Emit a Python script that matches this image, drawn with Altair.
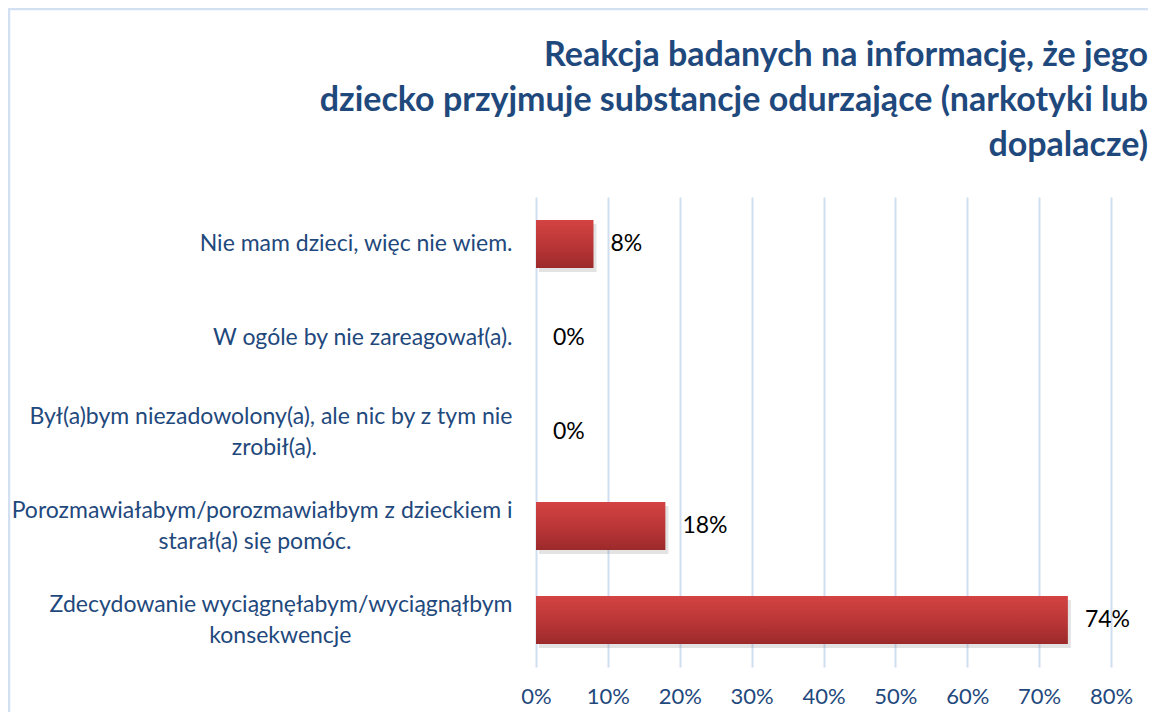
import altair as alt
import pandas as pd

categories = [
    "Nie mam dzieci, więc nie wiem.",
    "W ogóle by nie zareagował(a).",
    "Był(a)bym niezadowolony(a), ale nic by z tym nie|zrobił(a).",
    "Porozmawiałabym/porozmawiałbym z dzieckiem i|starał(a) się pomóc.",
    "Zdecydowanie wyciągnęłabym/wyciągnąłbym|konsekwencje",
]
values = [0.08, 0.0, 0.0, 0.18, 0.74]
title_lines = [
    "Reakcja badanych na informację, że jego",
    "dziecko przyjmuje substancje odurzające (narkotyki lub",
    "dopalacze)",
]

# layout only: en-space padding that centres each second label line under the first
SECOND_LINE_PAD = {2: 17, 3: 14, 4: 14}
EN = "\u2002"
WJ = "\u2060"
label_text = []
for i, c in enumerate(categories):
    if "|" in c:
        c = c + EN * SECOND_LINE_PAD.get(i, 0) + WJ
    label_text.append(c)

df = pd.DataFrame({"cat": label_text, "val": values})

W, H = 575, 470
PL, PT, PR, PB = 528, 189, 37, 45

FONT = "Lato"
BLUE = "#1F497D"

y_enc = alt.Y(
    "cat:N",
    sort=label_text,
    title=None,
    scale=alt.Scale(paddingInner=0.49, paddingOuter=0.245),
    axis=alt.Axis(
        labelExpr="split(datum.label, '|')",
        labelFont=FONT,
        labelFontSize=23,
        labelColor=BLUE,
        labelPadding=24,
        labelLineHeight=31,
        labelLimit=600,
        labelOffset={"condition": {"test": "indexof(datum.value, '|') >= 0", "value": -15.5}, "value": 0},
        ticks=False,
        domain=False,
        grid=False,
    ),
)
x_enc = alt.X(
    "val:Q",
    title=None,
    scale=alt.Scale(domain=[0, 0.8], nice=False),
    axis=alt.Axis(
        format=".0%",
        values=[0, 0.1, 0.2, 0.3, 0.4, 0.5, 0.6, 0.7, 0.8],
        labelFont=FONT,
        labelFontSize=22,
        labelColor=BLUE,
        labelPadding=19,
        labelFlush=False,
        labelOverlap=False,
        ticks=False,
        domain=False,
        grid=True,
        gridColor="#D0DEF1",
        gridWidth=2,
    ),
)

base = alt.Chart(df)

shadow = base.mark_bar(color="#7f7f7f", opacity=0.22, xOffset=3, yOffset=4).encode(
    x=x_enc, y=y_enc
)

bars = base.mark_bar(
    color=alt.Gradient(
        gradient="linear",
        stops=[
            alt.GradientStop(color="#D44343", offset=0),
            alt.GradientStop(color="#B93536", offset=0.55),
            alt.GradientStop(color="#9C2A2B", offset=1),
        ],
        x1=0, x2=0, y1=0, y2=1,
    )
).encode(x=x_enc, y=y_enc)

labels = base.mark_text(
    align="left", baseline="middle", dx=17, font=FONT, fontSize=23, color="#000000"
).encode(x=x_enc, y=y_enc, text=alt.Text("val:Q", format=".0%"))

frame = alt.Chart(pd.DataFrame({"k": [0]})).mark_rect(
    fill=None, stroke="#D3E0F1", strokeWidth=2.5
).encode(
    x=alt.value(-PL + 1), x2=alt.value(W + PR + 50),
    y=alt.value(-PT + 1), y2=alt.value(H + PB + 50),
)

chart = alt.layer(frame, shadow, bars, labels).properties(
    width=W,
    height=H,
    autosize=alt.AutoSizeParams(type="none"),
    padding={"left": PL, "top": PT, "right": PR, "bottom": PB},
    title=alt.TitleParams(
        text=title_lines,
        anchor="end",
        align="right",
        frame="group",
        font=FONT,
        fontSize=34,
        fontWeight="bold",
        color=BLUE,
        lineHeight=45,
        dx=37,
        offset=-155,
    ),
).configure_view(stroke=None)

chart.save("out.html", embed_options={"renderer": "svg", "actions": False})
